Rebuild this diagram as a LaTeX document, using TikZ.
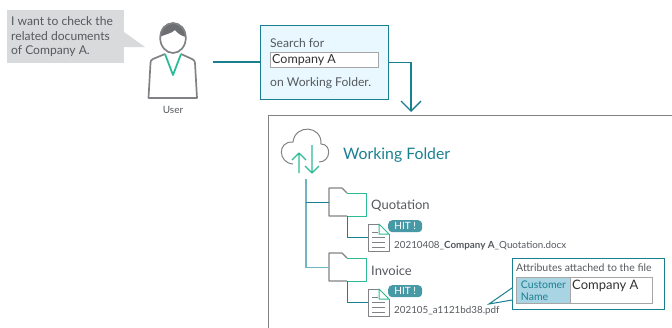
\documentclass[tikz,border=0pt]{standalone}
\usepackage{fontspec}
\setmainfont{Lato}
\usepackage{tikz}
\usetikzlibrary{positioning, arrows.meta, calc}

\begin{document}
\begin{tikzpicture}[x=1pt, y=-1pt, font=\fontsize{12.1}{14.5}\selectfont, >={Straight Barb[length=10pt, width=20pt]}]
        % colours
        \definecolor{myteal}{HTML}{1A8090}
        \definecolor{mylightteal}{HTML}{6FB5C2}
        \definecolor{mygreen}{HTML}{2DBB96}
        \definecolor{mygray}{HTML}{808285}
        \definecolor{mytext}{HTML}{55595E}
        \definecolor{mybubble}{HTML}{D9DADC}
        \definecolor{mycell}{HTML}{A9D4E4}

        % common styles
        \tikzset{
            link/.style={myteal, line width=1.3pt},
            lightlink/.style={mylightteal, line width=1.3pt},
            outline/.style={mygray, line width=1.1pt, line join=round},
            accent/.style={mygreen, line width=1pt, line join=round},
            label/.style={inner sep=0pt, text=mytext, anchor=west},
            hitbadge/.style={fill=myteal!80!white, rounded corners=4pt, text=white, inner sep=0pt,
                minimum width=34pt, minimum height=12pt, font=\fontsize{10}{11}\selectfont},
            filelabel/.style={label, font=\fontsize{9.8}{11}\selectfont},
            folderpic/.pic={
                \node[inner sep=0pt, minimum width=37pt, minimum height=28pt, anchor=north west] (-box) at (0,0) {};
                \draw[accent] (18,5) -- (37,5) -- (37,28) -- (18,28);
                \draw[outline] (18,28) -- (0,28) -- (0,0) -- (13,0) -- (18,5);
            },
            docpic/.pic={
                \node[inner sep=0pt, minimum width=21pt, minimum height=27pt, anchor=north west] (-box) at (0,0) {};
                \draw[outline, line width=1pt] (11,0) -- (0,0) -- (0,27) -- (21,27) -- (21,10);
                \draw[accent, fill=white] (11,0) -- (21,10) -- (11,10) -- cycle;
                \draw[mygray, line width=0.7pt] (4,8) -- (10,8) (4,13.5) -- (17,13.5) (4,18) -- (17,18) (4,23) -- (17,23);
            }
        }

        \clip (0,0) rectangle (672,327);

        % --- user and speech bubble ---
        \node (bubble) [fill=mybubble, minimum width=117pt, minimum height=53pt, inner sep=0pt, anchor=north west] at (7,10) {};
        \fill[mybubble] (124,32) -- (145,47) -- (124,47) -- cycle;
        \node (bubbletext) [label, align=left, anchor=west] at (11,37) {I want to check the\\related documents\\of Company A.};

        \fill[mygray!85!black] (160,37) .. controls (159,18) and (187,18) .. (186,37)
            .. controls (182,36) and (178,34) .. (175,30) .. controls (171,34) and (165,34) .. (160,37) -- cycle;
        \draw[outline, line width=1.7pt] (173,38) ellipse (12.8 and 15);
        \draw[outline, line width=1.7pt] (165,54) -- (153,59) .. controls (151,60) and (150.5,61) .. (150.5,63) -- (148.5,98) -- (197,98) -- (195,63) .. controls (195,61) and (194,60) .. (192,59) -- (181,54);
        \draw[accent, line width=1.8pt] (165,54) -- (173,75) -- (181,54);
        \node (user) [label, font=\fontsize{10}{11}\selectfont, anchor=center] at (173,110) {User};
        \coordinate (userout) at (213,62);

        % --- search box ---
        \node (searchbox) [draw=myteal, fill=cyan!9, line width=1pt, minimum width=128pt, minimum height=74pt, inner sep=0pt, anchor=north west] at (260,25) {};
        \node (searchfor) [label] at (270,43) {Search for};
        \node (searchinput) [draw=gray!70, fill=white, line width=1pt, minimum width=108pt, minimum height=15pt, inner sep=0pt, anchor=north west] at (270,52) {};
        \node (searchword) [label, text=black!80, font=\fontsize{12.5}{15}\selectfont] at (272,60) {Company A};
        \node (searchwhere) [label] at (270,83) {on Working Folder.};

        % --- working folder panel ---
        \node (panel) [draw=mygray, line width=1pt, minimum width=430pt, minimum height=240pt, inner sep=0pt, anchor=north west] at (268,115) {};
        \coordinate (arrowend) at (411,112);

        \draw[link] (userout) -- (userout -| searchbox.west);
        \draw[link, ->] (searchbox.east) -| (arrowend);

        % cloud
        \draw[outline, line width=1pt] (293,164) .. controls (278,163) and (277,141) .. (293,142)
            .. controls (295,124) and (322,125) .. (321,144)
            .. controls (332,144) and (331,162) .. (319,162);
        \draw[accent, line width=1.3pt] (299,173) -- (299,153) (292,160) -- (299,153) -- (306,160);
        \draw[accent, line width=1.3pt] (312,145) -- (312,173) (305,166) -- (312,173) -- (319,166);
        \node (title) [label, text=myteal, font=\fontsize{15.8}{18}\selectfont] at (343,155) {Working Folder};
        \coordinate (treetop) at (306,179);

        % tree
        \pic (folderA) at (329,188) {folderpic};
        \pic (folderB) at (329,253) {folderpic};
        \node (quotation) [label, font=\fontsize{13}{15}\selectfont] at (371,206) {Quotation};
        \node (invoice) [label, font=\fontsize{13}{15}\selectfont] at (371,270.5) {Invoice};
        \pic (docA) at (368,224) {docpic};
        \pic (docB) at (368,289) {docpic};

        \draw[lightlink] (treetop) |- (folderB-box.west);
        \draw[link] (treetop |- folderA-box.west) -- (folderA-box.west);
        \draw[link] (folderA-box.south) |- (docA-box.west);
        \draw[link] (folderB-box.south) |- (docB-box.west);

        \node (hitA) [hitbadge, anchor=north west] at (388,220) {HIT !};
        \node (hitB) [hitbadge, anchor=north west] at (388,285) {HIT !};
        \node (fileA) [filelabel] at (394,245.5) {20210408\_\textbf{Company A}\_Quotation.docx};
        \node (fileB) [filelabel] at (394,310.5) {202105\_a1121bd38.pdf};

        % attributes of the file
        \node (attrbox) [draw=myteal, fill=white, line width=1pt, minimum width=152pt, minimum height=51pt, inner sep=0pt, anchor=north west] at (512,258) {};
        \coordinate (attrtip) at (489,304);
        \fill[white] (512,288) -- (attrtip) -- (512,300) -- cycle;
        \draw[myteal, line width=1pt] (512,288) -- (attrtip) -- (512,300);
        \node (attrtitle) [label, font=\fontsize{10.5}{12}\selectfont] at (516,268) {Attributes attached to the file};
        \node (attrname) [draw=gray!70, fill=mycell, line width=1pt, text=myteal, align=left, font=\fontsize{10.5}{12.5}\selectfont,
            minimum width=54pt, minimum height=26pt, inner sep=0pt, anchor=north west] at (516,277) {Customer\\Name};
        \node (attrvalue) [draw=gray!70, line width=1pt, minimum width=82pt, minimum height=26pt, inner sep=0pt, anchor=north west] at (570,277) {};
        \node (attrword) [label, text=black!80, font=\fontsize{13}{15}\selectfont] at (572,286) {Company A};
\end{tikzpicture}
\end{document}
